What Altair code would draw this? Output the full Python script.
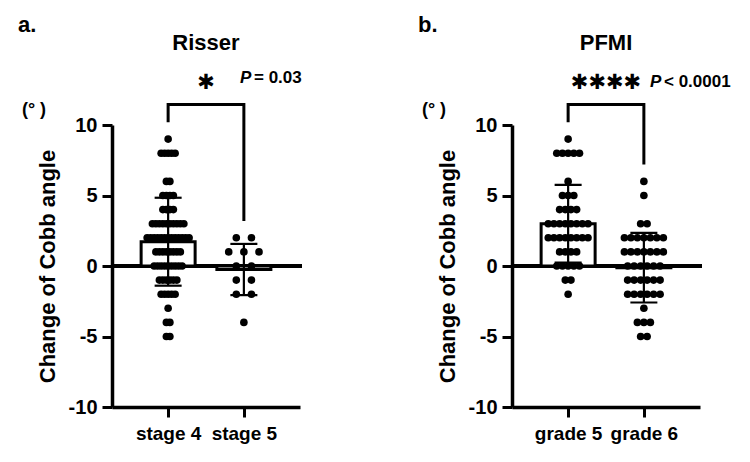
import altair as alt
import pandas as pd

# ---- data (change of Cobb angle, degrees) ----
stage4 = [9,
          8, 8, 8, 8, 8,
          6, 6,
          5, 5, 5, 5,
          4, 4, 4, 4,
          3, 3, 3, 3, 3, 3, 3, 3, 3, 3,
          2, 2, 2, 2, 2, 2, 2, 2, 2, 2, 2, 2, 2,
          1, 1, 1, 1, 1, 1, 1, 1,
          0, 0, 0, 0, 0, 0, 0, 0, 0,
          -1, -1, -1, -1, -1, -1,
          -2, -2, -2, -2, -2,
          -3,
          -4, -4,
          -5, -5]
stage5 = [2, 2, 1, 1, 1, 0, 0, -1, -1, -2, -2, -4]
grade5 = [9,
          8, 8, 8, 8, 8,
          6,
          5, 5, 5,
          4, 4, 4, 4,
          3, 3, 3, 3, 3, 3, 3, 3,
          2, 2, 2, 2, 2, 2, 2, 2,
          1, 1, 1, 1,
          0, 0, 0, 0, 0,
          -1, -1,
          -2]
grade6 = [6,
          5,
          3, 3,
          2, 2, 2, 2, 2, 2, 2,
          1, 1, 1, 1, 1, 1, 1,
          0, 0, 0, 0, 0, 0,
          -1, -1, -1, -1, -1, -1,
          -2, -2, -2, -2, -2, -2,
          -3,
          -4, -4, -4,
          -5, -5]

risser_labels = ["stage 4", "stage 5"]
pfmi_labels = ["grade 5", "grade 6"]

FONT = "Liberation Sans"
W, H = 188, 282
XDOM = [-0.675, 1.675]


def make_df(groups):
    rows = []
    for gi, vals in enumerate(groups):
        for v in vals:
            rows.append({"gi": gi, "v": v})
    return pd.DataFrame(rows)


def panel(groups, labels, letter, title, stars, p_sym, p_val, p_x, p_y):
    df = make_df(groups)
    xscale = alt.Scale(domain=XDOM, nice=False, zero=False)
    yscale = alt.Scale(domain=[-10, 10], nice=False, zero=False)
    xaxis = alt.Axis(values=[0, 1],
                     labelExpr=f"datum.value == 0 ? '{labels[0]}' : '{labels[1]}'",
                     title=None, grid=False, labelAngle=0,
                     labelFont=FONT, labelFontSize=19, labelFontWeight="bold",
                     labelColor="black", labelPadding=7,
                     tickSize=10, tickWidth=3, tickColor="black",
                     domainWidth=3.5, domainColor="black")
    yaxis = alt.Axis(values=[-10, -5, 0, 5, 10], title="Change of Cobb angle",
                     labelExpr="toString(datum.value)",
                     grid=False, labelFont=FONT, labelFontSize=20,
                     labelFontWeight="bold", labelColor="black", labelPadding=5,
                     tickSize=10, tickWidth=3, tickColor="black",
                     domainWidth=3.5, domainColor="black",
                     titleFont=FONT, titleFontSize=22, titleFontWeight="bold",
                     titleColor="black", titlePadding=9)

    def X(f):
        return alt.X(f, type="quantitative", scale=xscale, axis=xaxis)

    def Y(f):
        return alt.Y(f, type="quantitative", scale=yscale, axis=yaxis)

    base = alt.Chart(df)

    stats = base.transform_aggregate(
        m="mean(v)", s="stdev(v)", groupby=["gi"]
    ).transform_calculate(
        lo="datum.m - datum.s", hi="datum.m + datum.s", z="0"
    )

    zero = base.mark_rule(color="black", strokeWidth=3).encode(
        y=alt.Y(datum=0, type="quantitative", scale=yscale, axis=yaxis),
        x=alt.value(0), x2=alt.value(W + 2))

    bars = stats.mark_bar(size=54, fill="white", stroke="black",
                          strokeWidth=3, orient="vertical").encode(
        x=X("gi"), y=Y("m"), y2="z:Q")

    dots = base.transform_window(
        rank="row_number()", groupby=["gi", "v"]
    ).transform_joinaggregate(
        n="count()", groupby=["gi", "v"]
    ).transform_joinaggregate(
        maxn="max(n)", groupby=["gi"]
    ).transform_calculate(
        xp="datum.gi + (datum.rank - (datum.n + 1) / 2) * min(0.2, 0.6 / datum.maxn)"
    ).mark_circle(size=58, color="black", opacity=1).encode(
        x=X("xp"), y=Y("v"))

    err = stats.mark_rule(color="black", strokeWidth=2.2).encode(
        x=X("gi"), y=Y("lo"), y2="hi:Q")
    cap_hi = stats.mark_tick(orient="horizontal", size=27, thickness=2.2,
                             color="black", opacity=1).encode(x=X("gi"), y=Y("hi"))
    cap_lo = stats.mark_tick(orient="horizontal", size=27, thickness=2.2,
                             color="black", opacity=1).encode(x=X("gi"), y=Y("lo"))

    top = max(max(groups[0]), max(groups[1])) + 2.45
    bdf = pd.DataFrame({
        "bx": [0, 0, 1, 1],
        "by": [max(groups[0]) + 1.2, top, top, max(groups[1]) + 1.2],
        "o": [0, 1, 2, 3],
    })
    bracket = alt.Chart(bdf).mark_line(color="black", strokeWidth=3,
                                       strokeJoin="miter", clip=False).encode(
        x=X("bx"), y=Y("by"), order="o:O")

    one = pd.DataFrame({"k": [0]})

    def txt(text, x, y, size, align="left", baseline="middle",
            font=FONT, style="normal"):
        return alt.Chart(one).mark_text(
            text=text, font=font, fontSize=size, fontWeight="bold",
            fontStyle=style, align=align, baseline=baseline, color="black"
        ).encode(x=alt.value(x), y=alt.value(y))

    texts = [
        txt(letter, -94, -93, 22, baseline="alphabetic"),
        txt(title, 94, -82, 22, align="center"),
        txt(stars, 94, -42, 21, align="center", font="DejaVu Sans"),
        txt(p_sym, p_x, p_y, 17, style="italic"),
        txt(p_val, p_x + 14, p_y, 17),
        txt("(° )", -78, -15, 18, align="center"),
    ]

    return alt.layer(zero, bars, dots, err, cap_hi, cap_lo, bracket,
                     *texts).properties(width=W, height=H)


pa = panel([stage4, stage5], risser_labels, "a.", "Risser", "✱",
           "P", "= 0.03", 128, -47)
pb = panel([grade5, grade6], pfmi_labels, "b.", "PFMI", "✱✱✱✱",
           "P", "< 0.0001", 138, -43)

chart = alt.hconcat(pa, pb, spacing=212, bounds="flush").configure_view(
    stroke=None
).properties(padding={"left": 10, "top": 6, "right": 5, "bottom": 5})

chart.save("out.html", embed_options={"renderer": "svg", "actions": False})
